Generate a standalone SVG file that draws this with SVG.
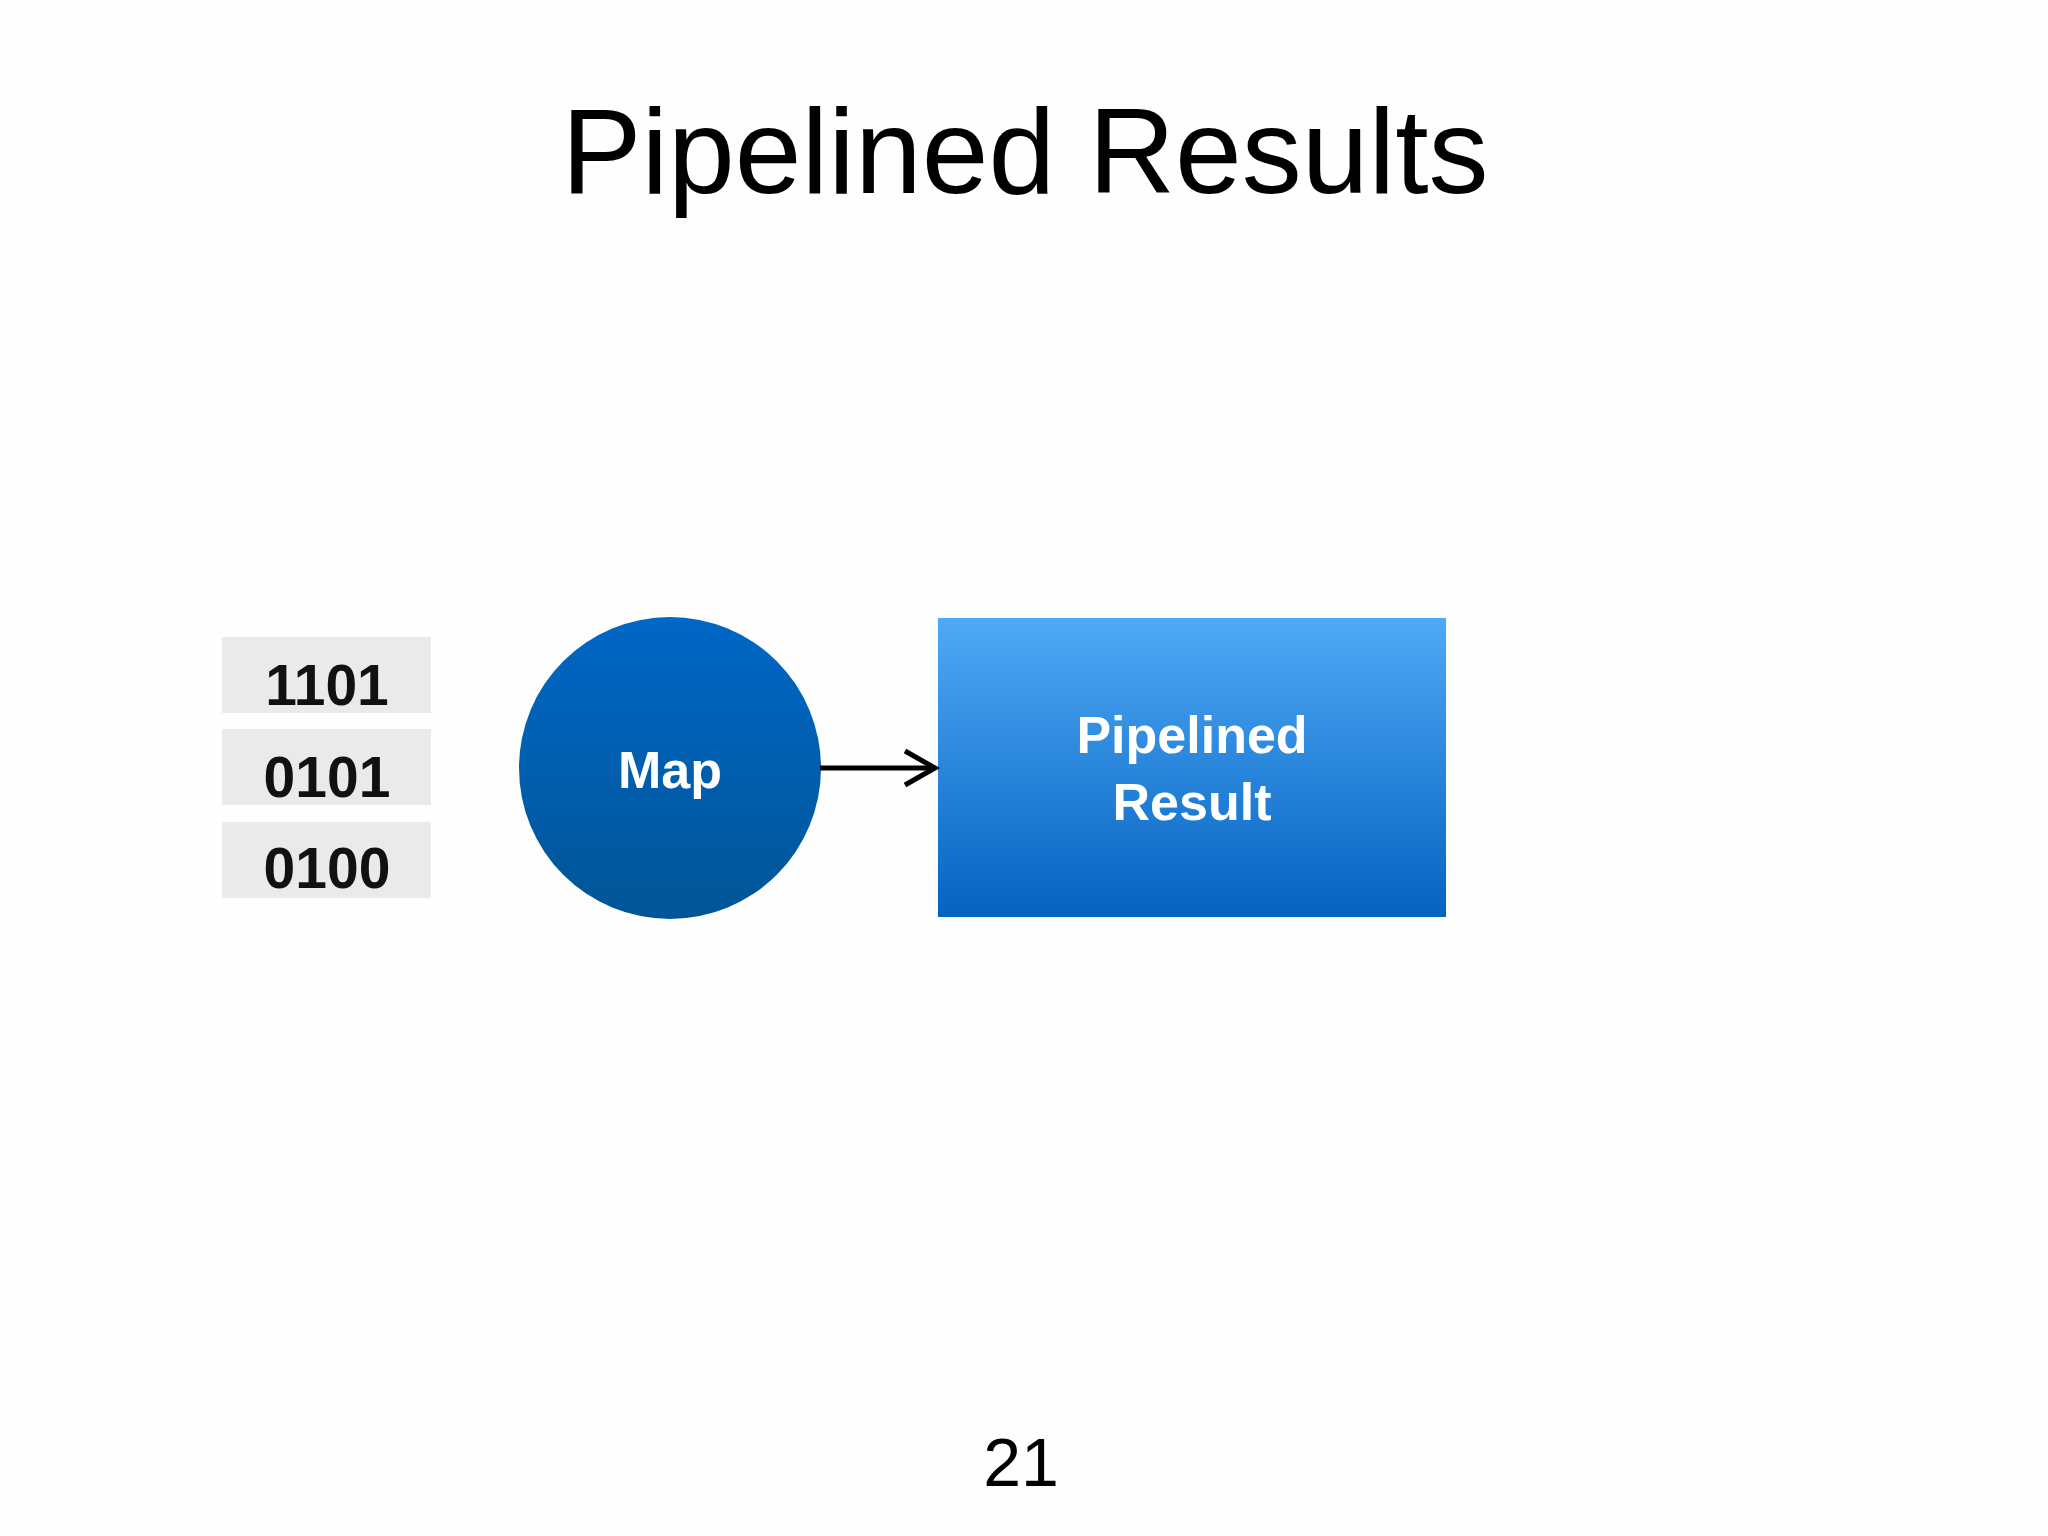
<svg xmlns="http://www.w3.org/2000/svg" width="2048" height="1536" viewBox="0 0 2048 1536">
<defs>
<linearGradient id="gc" x1="0" y1="0" x2="0" y2="1"><stop offset="0" stop-color="#0067c6"/><stop offset="1" stop-color="#005596"/></linearGradient>
<linearGradient id="gr" x1="0" y1="0" x2="0" y2="1"><stop offset="0" stop-color="#4fa9f6"/><stop offset="1" stop-color="#0563c1"/></linearGradient>
<style>
.t{font-family:"Liberation Sans",Arial,sans-serif}
.box{fill:#ebeaeb}
.num{font-size:57px;font-weight:bold;fill:#111;text-anchor:middle}
.w{font-size:52px;font-weight:bold;fill:#fff;text-anchor:middle}
</style>
</defs>
<rect width="2048" height="1536" fill="#fefefe"/>
<text class="t" x="1025" y="193" font-size="120" text-anchor="middle" fill="#000">Pipelined Results</text>
<g id="data">
<rect class="box" x="222" y="637" width="209" height="76"/>
<text class="t num" x="327" y="705">1101</text>
<rect class="box" x="222" y="729" width="209" height="76"/>
<text class="t num" x="327" y="797">0101</text>
<rect class="box" x="222" y="822" width="209" height="76"/>
<text class="t num" x="327" y="888">0100</text>
</g>
<g id="map">
<circle cx="670" cy="768" r="151" fill="url(#gc)"/>
<text class="t w" x="670" y="788">Map</text>
</g>
<g id="result">
<rect x="938" y="618" width="508" height="299" fill="url(#gr)"/>
<text class="t w" x="1192" y="753">Pipelined</text>
<text class="t w" x="1192" y="820">Result</text>
</g>
<g id="connectors" fill="none" stroke="#000" stroke-width="5">
<line x1="820" y1="768" x2="935" y2="768"/>
<polyline points="905,751 935,768 905,785"/>
</g>
<text class="t" x="1021" y="1486" font-size="68" text-anchor="middle" fill="#000">21</text>
</svg>
